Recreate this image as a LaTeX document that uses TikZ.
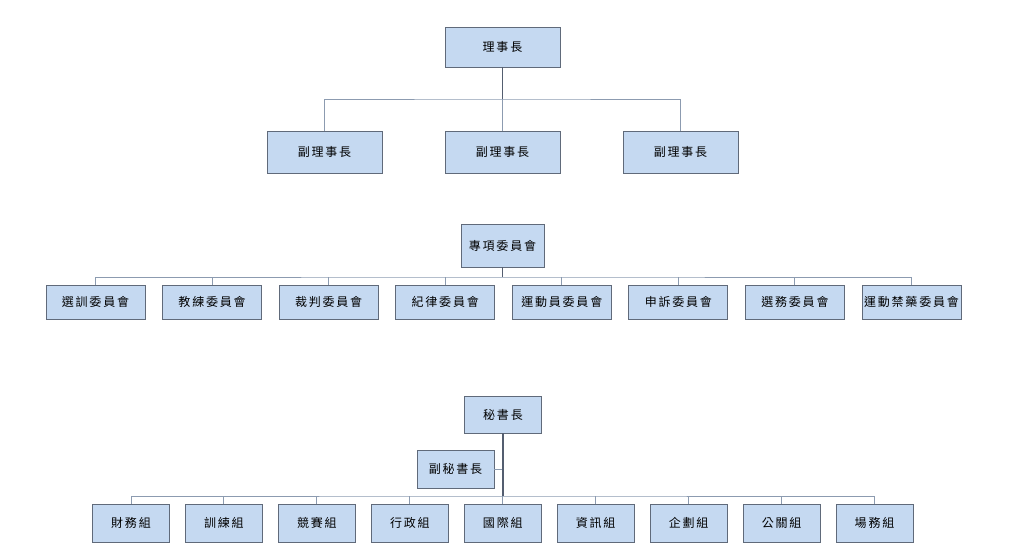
\documentclass[tikz,border=0pt]{standalone}
\usepackage{fontspec}
\newfontfamily\cjk[LetterSpace=15]{Noto Sans CJK TC}
\definecolor{boxfill}{RGB}{197, 217, 241}
\definecolor{boxline}{RGB}{96, 106, 122}
\definecolor{trunkline}{RGB}{84, 94, 112}
\definecolor{busline}{RGB}{140, 155, 176}
\usetikzlibrary{positioning}

\begin{document}
\begin{tikzpicture}[
  x=1pt, y=-1pt,
  obox/.style={draw=boxline, fill=boxfill, line width=0.9pt, inner sep=0.5pt, outer sep=0pt, align=center, font=\cjk\fontsize{12}{14}\selectfont},
  trunk/.style={draw=trunkline, line width=1.6pt},
  bus/.style={draw=busline, line width=0.9pt}
]
  \useasboundingbox (0,0) rectangle (1024,559);

  % board
  \node[obox, minimum width=115pt, minimum height=40pt] (chair) at (502.5, 47) {理事長};
  \foreach \i/\x in {1/324.5, 2/502.5, 3/680.5}
    \node[obox, minimum width=115pt, minimum height=42pt] (vice\i) at (\x, 152) {副理事長};
  \coordinate (busA) at (502.5, 99);
  \draw[trunk] (chair) -- (busA);
  \draw[bus] (vice1.north) |- (busA) -| (vice3.north);
  \draw[bus] (busA) -- (vice2);

  % committees
  \node[obox, minimum width=83pt, minimum height=43pt] (spec) at (502.5, 245.5) {專項委員會};
  \foreach \i/\t in {1/選訓委員會, 2/教練委員會, 3/裁判委員會, 4/紀律委員會, 5/運動員委員會, 6/申訴委員會, 7/選務委員會, 8/運動禁藥委員會}
    \node[obox, minimum width=99pt, minimum height=34pt] (com\i) at ({95.5+116.57*(\i-1)}, 302) {\t};
  \coordinate (busB) at (502.5, 277);
  \draw[trunk] (spec) -- (busB);
  \draw[bus] (com1.north) |- (busB) -| (com8.north);
  \foreach \i in {2,...,7}
    \draw[bus] (com\i.north) -- (com\i.north |- busB);

  % secretariat
  \node[obox, minimum width=77pt, minimum height=37pt] (sec) at (503, 414.5) {秘書長};
  \node[obox, minimum width=77pt, minimum height=38pt] (dsec) at (455.5, 469) {副秘書長};
  \foreach \i/\t in {1/財務組, 2/訓練組, 3/競賽組, 4/行政組, 5/國際組, 6/資訊組, 7/企劃組, 8/公關組, 9/場務組}
    \node[obox, minimum width=77pt, minimum height=38pt] (grp\i) at ({131+92.94*(\i-1)}, 523) {\t};
  \coordinate (busC) at (503, 496);
  \draw[bus] (dsec.east) -- (dsec.east -| busC);
  \draw[trunk] (sec) -- (busC);
  \draw[bus] (grp1.north) |- (busC) -| (grp9.north);
  \foreach \i in {2,...,8}
    \draw[bus] (grp\i.north) -- (grp\i.north |- busC);
\end{tikzpicture}
\end{document}
